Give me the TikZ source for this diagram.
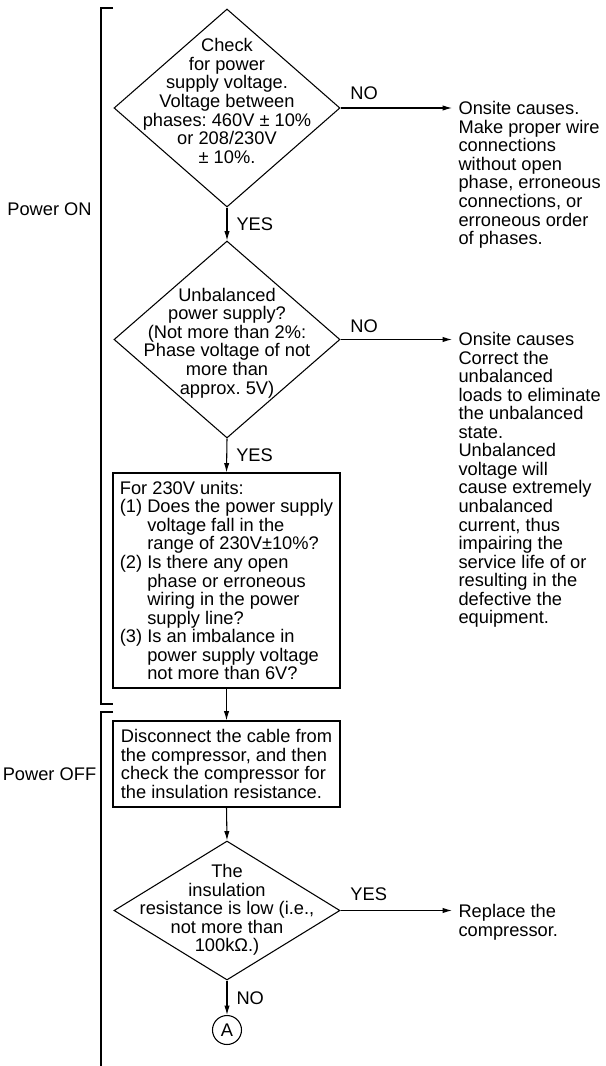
\documentclass[tikz,border=0pt]{standalone}
\usepackage{fontspec}
\setmainfont{Liberation Sans}
\usetikzlibrary{shapes.geometric,arrows.meta}
\frenchspacing
\begin{document}
\begin{tikzpicture}[x=0.75pt,y=-0.75pt,
  font=\fontsize{13.7}{13.9}\selectfont, line width=0.8pt,
  dia/.style={draw, diamond, inner sep=0, minimum width=226*0.75pt},
  box/.style={draw, rectangle, inner sep=0, minimum width=227*0.75pt, align=left},
  arr/.style={-{Latex[length=7pt,width=4pt]}},
  txt/.style={align=center, inner sep=0},
  side/.style={align=left, inner sep=0, anchor=west},
  lbl/.style={inner sep=0},
  dlbl/.style={inner sep=0, anchor=west, xshift=6.75pt},
  hlbl/.style={inner sep=0, anchor=south}]
\useasboundingbox (0,0) rectangle (606,1066);
% brackets
\draw (113,8) -- (101,8) -- (101,704) -- (113,704);
\draw (113,712) -- (101,712) -- (101,1067);
\node[lbl] (pon) at (49.5,209) {Power ON};
\node[lbl] (poff) at (49.5,774) {Power OFF};
% decision 1
\node[dia, minimum height=198*0.75pt] (d1) at (227,108) {};
\node[txt] (t1) at (227,101) {Check\\for power\\supply voltage.\\Voltage between\\phases: 460V ± 10\%\\or 208/230V\\± 10\%.};
% decision 2
\node[dia, minimum height=197*0.75pt] (d2) at (227,339.5) {};
\node[txt] (t2) at (227,343) {Unbalanced\\power supply?\\(Not more than 2\%:\\Phase voltage of not\\more than\\approx. 5V)};
% box 1
\node[box, minimum height=215*0.75pt] (b1) at (226.5,580.5) {For 230V units:\\
(1) Does the power supply\\
\hphantom{(1) }voltage fall in the\\
\hphantom{(1) }range of 230V±10\%?\\
(2) Is there any open\\
\hphantom{(2) }phase or erroneous\\
\hphantom{(2) }wiring in the power\\
\hphantom{(2) }supply line?\\
(3) Is an imbalance in\\
\hphantom{(3) }power supply voltage\\
\hphantom{(3) }not more than 6V?};
% box 2
\node[box, minimum height=86*0.75pt] (b2) at (226.5,764) {Disconnect the cable from\\the compressor, and then\\check the compressor for\\the insulation resistance.};
% decision 3
\node[dia, minimum height=139*0.75pt] (d3) at (227,910.5) {};
\node[txt] (t3) at (227,910) {The\\insulation\\resistance is low (i.e.,\\not more than\\100kΩ.)};
% connector A
\node[draw, circle, minimum size=29*0.75pt, inner sep=0] (a) at (227,1030) {A};
% side texts
\node[side] (r1) at (458,175) {Onsite causes.\\Make proper wire\\connections\\without open\\phase, erroneous\\connections, or\\erroneous order\\of phases.};
\node[side] (r2) at (458,480) {Onsite causes\\Correct the\\unbalanced\\loads to eliminate\\the unbalanced\\state.\\Unbalanced\\voltage will\\cause extremely\\unbalanced\\current, thus\\impairing the\\service life of or\\resulting in the\\defective the\\equipment.};
\node[side] (r3) at (458,922) {Replace the\\compressor.};
% connectors
\draw[arr] (d1.south) -- (d2.north) node[dlbl, midway] {YES};
\draw[arr] (d2.south) -- (b1.north) node[dlbl, midway] {YES};
\draw[arr] (b1.south) -- (b2.north);
\draw[arr] (b2.south) -- (d3.north);
\draw[arr] (d3.south) -- (a.north) node[dlbl, midway] {NO};
\draw[arr, shorten >=4.5pt] (d1.east) -- (d1.east -| r1.west) node[hlbl, pos=0.2, yshift=5.6pt] {NO};
\draw[arr, shorten >=4.5pt] (d2.east) -- (d2.east -| r2.west) node[hlbl, pos=0.2, yshift=4.9pt] {NO};
\draw[arr, shorten >=4.5pt] (d3.east) -- (d3.east -| r3.west) node[hlbl, pos=0.24, yshift=7.1pt] {YES};
\end{tikzpicture}
\end{document}
